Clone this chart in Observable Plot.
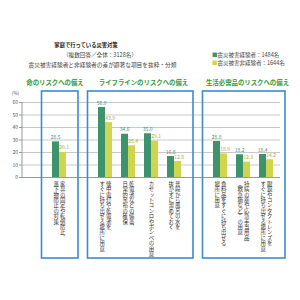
<!DOCTYPE html>
<html><head><meta charset="utf-8">
<script src="https://cdn.jsdelivr.net/npm/d3@7"></script>
<script src="https://cdn.jsdelivr.net/npm/@observablehq/plot@0.6"></script>
<style>
body{margin:0;background:#fff;}
#wrap{position:relative;width:300px;height:300px;font-family:"Noto Sans CJK JP","Noto Sans",sans-serif;color:#333;overflow:hidden}
.t{position:absolute;white-space:nowrap;line-height:1;transform:translate(-50%,-50%)}
.l{position:absolute;white-space:nowrap;line-height:1;transform:translate(0,-50%)}
#wrap svg{position:absolute;left:0;top:0}
</style></head>
<body><div id="wrap"></div>
<script>
const title = "家庭で行っている災害対策";
const subtitle = "（複数回答／全体：3128名）";
const note = "震災被害経験者と非経験者の差が顕著な項目を抜粋・分類";
const seriesNames = ["震災被害経験者：1484名", "震災被害非経験者：1644名"];
const groupNames = ["命のリスクへの備え", "ライフラインのリスクへの備え", "生活必需品のリスクへの備え"];
const itemGroup = [0, 1, 1, 1, 1, 2, 2, 2];
const labelLine1 = ["家具の固定や転倒防止、", "懐中電灯や乾電池を", "乾電池などの備蓄、", "カセットコンロやボンベの用意", "普段から風呂の水を", "食料品をすぐに持ち出せる", "持病の薬や応急手当用品", "眼鏡やコンタクトレンズを"];
const labelLine2 = ["落下物防止の対策", "すぐに持ち出せる場所に用意", "日常的余裕の確保", "", "抜かずに溜めておく", "場所に用意", "（救急箱など）の用意", "すぐに持ち出せる場所に用意"];
const experienced = [28.5, 56.0, 34.6, 35.0, 16.8, 28.8, 18.2, 18.4];
const nonExperienced = [20.1, 43.9, 25.4, 29.1, 12.8, 18.9, 12.3, 14.2];
const yTicks = [0, 10, 20, 30, 40, 50, 60];

const GREEN = "#3c936c", YELLOW = "#cfd54e", GREEN_T = "#3a8f78", YELLOW_T = "#a9ab30", BLUE = "#3a8ccf", HEAD = "#3a9a3c", LABEL = "#333334";

const rows = labelLine1.map((l1, i) => ({key: "k" + i, l1, l2: labelLine2[i], exp: experienced[i], non: nonExperienced[i], g: itemGroup[i]}));
const domain = [];
rows.forEach((r, i) => { if (i > 0 && r.g !== rows[i - 1].g) domain.push("gap" + i); domain.push(r.key); });

const wrap = document.getElementById("wrap");
function addText(cls, txt, x, y, css) {
  const d = document.createElement("div");
  d.className = cls; d.textContent = txt;
  d.style.left = x + "px"; d.style.top = y + "px";
  Object.assign(d.style, css || {});
  wrap.appendChild(d);
  return d;
}

const labOpts = {x: "key", frameAnchor: "bottom", dy: 3.5, textAnchor: "start", lineAnchor: "bottom", fontSize: 5.4, fill: LABEL};
const chart = Plot.plot({
  width: 300, height: 300,
  marginTop: 102, marginBottom: 123, marginLeft: 22, marginRight: 20,
  style: {fontFamily: '"Noto Sans CJK JP", sans-serif', background: "transparent"},
  x: {domain, range: [45.5, 279], paddingInner: 0.4, paddingOuter: 0.2, axis: null},
  y: {domain: [0, 60], axis: null},
  marks: [
    Plot.gridY(yTicks, {stroke: "#c9c9c9", strokeOpacity: 1}),
    Plot.axisY(yTicks, {tickSize: 3, tickPadding: 1.5, fontSize: 5, color: "#555", stroke: "#999", label: null}),
    Plot.barY(rows, {x: "key", y: "exp", fill: GREEN, insetRight: 7}),
    Plot.barY(rows, {x: "key", y: "non", fill: YELLOW, insetLeft: 7}),
    Plot.ruleY([0], {stroke: "#999"}),
    Plot.text(rows, {x: "key", y: "exp", text: d => d.exp.toFixed(1), dx: -3.8, dy: -4.5, fill: GREEN_T, fontSize: 5}),
    Plot.text(rows, {x: "key", y: "non", text: d => d.non.toFixed(1), dx: 4.6, dy: -4.5, fill: YELLOW_T, fontSize: 5}),
    Plot.text(rows.filter(d => d.l2), {...labOpts, text: "l1", dx: 3.3}),
    Plot.text(rows.filter(d => d.l2), {...labOpts, text: "l2", dx: -3.3}),
    Plot.text(rows.filter(d => !d.l2), {...labOpts, text: "l1", dx: 0})
  ]
});
wrap.appendChild(chart);

// category labels: vertical writing (縦書き)
d3.select(chart).selectAll(`g[fill="${LABEL}"]`).style("writing-mode", "vertical-rl")
  .selectAll("text").attr("writing-mode", "tb-rl").style("writing-mode", "vertical-rl").style("text-orientation", "mixed");

// scales for the group boxes and axis line
const xs = chart.scale("x"), ys = chart.scale("y");
let xf = xs.apply ? (v => xs.apply(v)) : d3.scaleBand(xs.domain, xs.range).paddingInner(xs.paddingInner).paddingOuter(xs.paddingOuter).align(xs.align ?? 0.5);
const bw = xs.bandwidth ?? xf.bandwidth();
const yf = ys.apply ? (v => ys.apply(v)) : d3.scaleLinear(ys.domain, ys.range);
const svg = d3.select(chart);
svg.append("line").attr("x1", 22).attr("x2", 22).attr("y1", yf(60)).attr("y2", yf(0)).attr("stroke", "#999");
const boxTop = yf(60) - 11, boxBottom = yf(0) + 81;
groupNames.forEach((g, gi) => {
  const keys = rows.filter(r => r.g === gi).map(r => r.key);
  const x0 = xf(keys[0]) - 10.5, x1 = xf(keys[keys.length - 1]) + bw + 12;
  svg.append("rect").attr("x", x0).attr("y", boxTop).attr("width", x1 - x0).attr("height", boxBottom - boxTop)
    .attr("fill", "none").attr("stroke", BLUE).attr("stroke-width", 1.6);
});

// header texts
addText("t", title, 86, 46, {fontSize: "5.3px", fontWeight: "bold", color: "#222"});
addText("t", subtitle, 100, 56, {fontSize: "5.6px", color: "#444"});
addText("t", note, 102.5, 65.3, {fontSize: "5.7px", color: "#444"});
const legColors = [GREEN, YELLOW];
seriesNames.forEach((s, i) => {
  const d = addText("l", "", 212, 55.7 + i * 8.3, {fontSize: "5.5px", color: "#444"});
  const sq = document.createElement("span");
  sq.textContent = "■"; sq.style.color = legColors[i];
  d.appendChild(sq); d.appendChild(document.createTextNode(s));
});
const headX = [55, 143.5, 247.5];
groupNames.forEach((g, i) => addText("t", g, headX[i], 82.7, {fontSize: "6.4px", fontWeight: "bold", color: HEAD}));
addText("t", "(%)", 15.5, 92.5, {fontSize: "4.6px", color: "#555"});
</script></body></html>
